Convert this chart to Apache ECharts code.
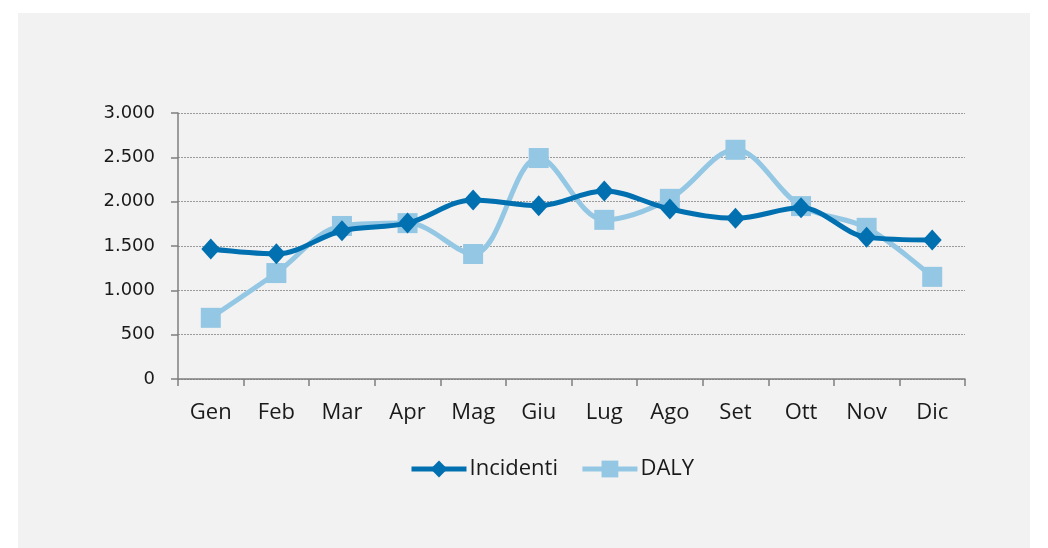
<!DOCTYPE html>
<html><head><meta charset="utf-8">
<script src="https://cdn.jsdelivr.net/npm/echarts@6/dist/echarts.min.js"></script>
<style>html,body{margin:0;padding:0;background:#fff}#c{width:1048px;height:548px}</style>
</head><body><div id="c"></div>
<script>
const categories = ['Gen','Feb','Mar','Apr','Mag','Giu','Lug','Ago','Set','Ott','Nov','Dic'];
const incidenti = [1466,1412,1672,1758,2020,1955,2120,1918,1812,1930,1600,1568];
const daly = [690,1195,1726,1758,1410,2492,1795,2032,2585,1950,1705,1152];
const seriesNames = ['Incidenti','DALY'];
const yTicks = {min:0, max:3000, interval:500};

const chart = echarts.init(document.getElementById('c'));
const font = 'Open Sans';
chart.setOption({
  animation:false,
  backgroundColor:'#ffffff',
  graphic:[{type:'rect',z:-10,silent:true,shape:{x:18,y:13,width:1012,height:540},style:{fill:'#f2f2f2'}}],
  grid:{left:178,right:83,top:113,bottom:169,containLabel:false},
  legend:{
    data:seriesNames, top:453, left:404, itemWidth:55, itemHeight:21, itemGap:22,
    lineStyle:{width:5},
    textStyle:{fontFamily:font,fontSize:22,color:'#1a1a1a',padding:[0,0,0,-2]}
  },
  xAxis:{
    type:'category', data:categories, boundaryGap:true,
    axisLine:{lineStyle:{color:'#7f7f7f',width:1.5}},
    axisTick:{show:true,length:7,alignWithLabel:false,lineStyle:{color:'#7f7f7f',width:1.5}},
    axisLabel:{fontFamily:font,fontSize:22,color:'#1a1a1a',margin:23}
  },
  yAxis:{
    type:'value', min:yTicks.min, max:yTicks.max, interval:yTicks.interval,
    axisLine:{show:true,lineStyle:{color:'#7f7f7f',width:1.5}},
    axisTick:{show:true,length:7,lineStyle:{color:'#7f7f7f',width:1.5}},
    axisLabel:{fontFamily:'DejaVu Sans',fontSize:18,color:'#1a1a1a',margin:23,
      formatter:v=>v.toString().replace(/\B(?=(\d{3})+(?!\d))/g,'.')},
    splitLine:{show:true,lineStyle:{color:'#9a9a9a',type:[2,1],width:1}}
  },
  series:[
    {name:seriesNames[0],type:'line',data:incidenti,smooth:0.35,symbol:'diamond',symbolSize:[19,21],
     lineStyle:{color:'#0070b0',width:5},itemStyle:{color:'#0070b0'},z:3},
    {name:seriesNames[1],type:'line',data:daly,smooth:0.35,symbol:'rect',symbolSize:20,
     lineStyle:{color:'#93c7e3',width:5},itemStyle:{color:'#93c7e3'},z:2}
  ]
});
</script></body></html>
